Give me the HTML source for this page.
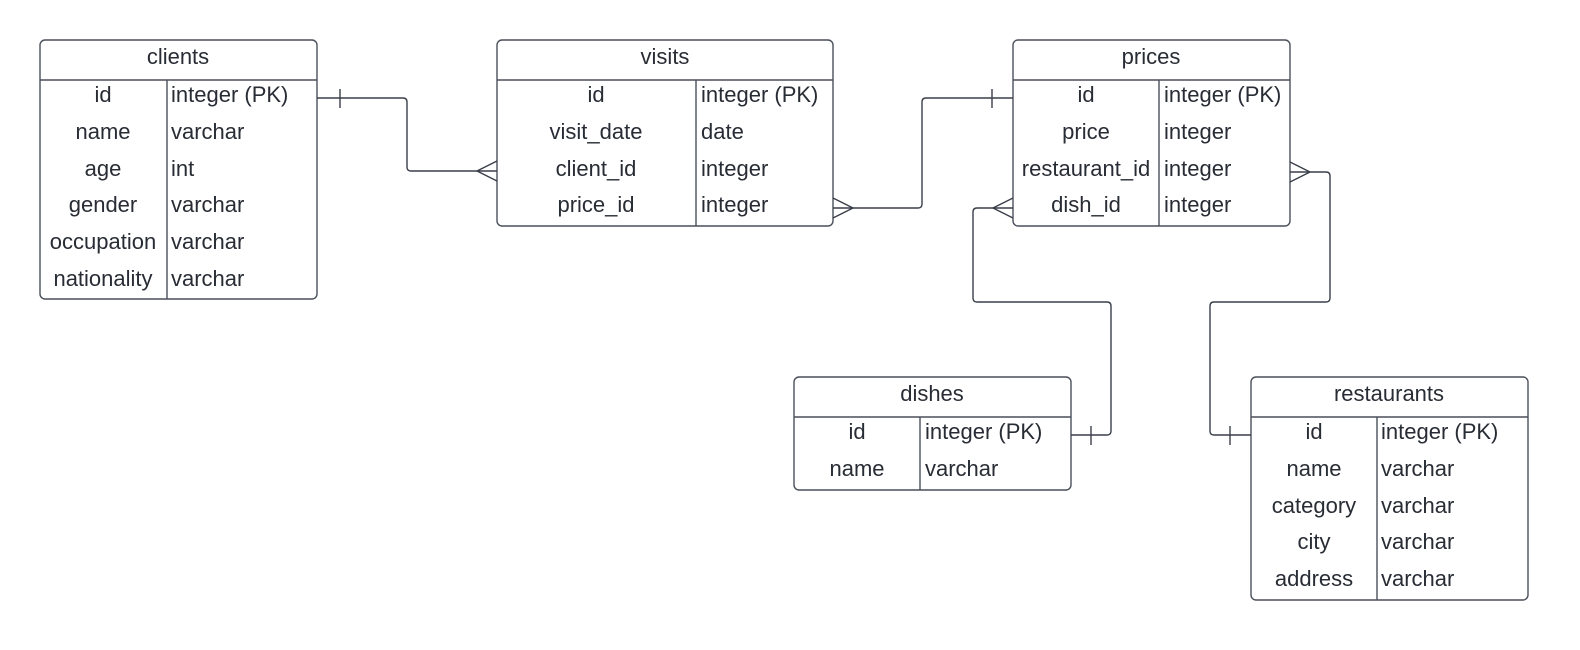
<!DOCTYPE html>
<html><head><meta charset="utf-8"><style>
html,body{margin:0;padding:0;background:#fff;}
svg text{font-family:"Liberation Sans",sans-serif;font-size:22px;fill:#282c34;}
</style></head><body>
<svg width="1580" height="645" xmlns="http://www.w3.org/2000/svg">
<g fill="none" stroke="#4a4f5a" stroke-width="1.4">
<rect x="40" y="40" width="277" height="259" rx="5"/>
<line x1="40" y1="80" x2="317" y2="80"/><line x1="167" y1="80" x2="167" y2="299"/>
<rect x="497" y="40" width="336" height="186" rx="5"/>
<line x1="497" y1="80" x2="833" y2="80"/><line x1="696" y1="80" x2="696" y2="226"/>
<rect x="1013" y="40" width="277" height="186" rx="5"/>
<line x1="1013" y1="80" x2="1290" y2="80"/><line x1="1159" y1="80" x2="1159" y2="226"/>
<rect x="794" y="377" width="277" height="113" rx="5"/>
<line x1="794" y1="417" x2="1071" y2="417"/><line x1="920" y1="417" x2="920" y2="490"/>
<rect x="1251" y="377" width="277" height="223" rx="5"/>
<line x1="1251" y1="417" x2="1528" y2="417"/><line x1="1377" y1="417" x2="1377" y2="600"/>
</g>
<g fill="none" stroke="#3a3f4a" stroke-width="1.4">
<path d="M317 98 H403 Q407 98 407 102 V167 Q407 171 411 171 H497"/>
<line x1="340" y1="89" x2="340" y2="108"/>
<path d="M477 171 L497 161 M477 171 L497 181"/>
<path d="M833 208 H918 Q922 208 922 204 V102 Q922 98 926 98 H1013"/>
<line x1="992" y1="89" x2="992" y2="108"/>
<path d="M853 208 L833 198 M853 208 L833 218"/>
<path d="M1013 208 H977 Q973 208 973 212 V298 Q973 302 977 302 H1107 Q1111 302 1111 306 V431 Q1111 435 1107 435 H1071"/>
<path d="M993 208 L1013 198 M993 208 L1013 218"/>
<line x1="1091" y1="426" x2="1091" y2="445"/>
<path d="M1290 172 H1326 Q1330 172 1330 176 V298 Q1330 302 1326 302 H1214 Q1210 302 1210 306 V431 Q1210 435 1214 435 H1251"/>
<path d="M1310 172 L1290 162 M1310 172 L1290 182"/>
<line x1="1230" y1="426" x2="1230" y2="445"/>
</g>
<g text-anchor="middle">
<text x="178" y="64">clients</text>
<text x="665" y="64">visits</text>
<text x="1151" y="64">prices</text>
<text x="932" y="401">dishes</text>
<text x="1389" y="401">restaurants</text>
<text x="103" y="102">id</text><text x="103" y="139">name</text><text x="103" y="176">age</text><text x="103" y="212">gender</text><text x="103" y="249">occupation</text><text x="103" y="286">nationality</text>
<text x="596" y="102">id</text><text x="596" y="139">visit_date</text><text x="596" y="176">client_id</text><text x="596" y="212">price_id</text>
<text x="1086" y="102">id</text><text x="1086" y="139">price</text><text x="1086" y="176">restaurant_id</text><text x="1086" y="212">dish_id</text>
<text x="857" y="439">id</text><text x="857" y="476">name</text>
<text x="1314" y="439">id</text><text x="1314" y="476">name</text><text x="1314" y="513">category</text><text x="1314" y="549">city</text><text x="1314" y="586">address</text>
</g>
<g>
<text x="171" y="102">integer (PK)</text><text x="171" y="139">varchar</text><text x="171" y="176">int</text><text x="171" y="212">varchar</text><text x="171" y="249">varchar</text><text x="171" y="286">varchar</text>
<text x="701" y="102">integer (PK)</text><text x="701" y="139">date</text><text x="701" y="176">integer</text><text x="701" y="212">integer</text>
<text x="1164" y="102">integer (PK)</text><text x="1164" y="139">integer</text><text x="1164" y="176">integer</text><text x="1164" y="212">integer</text>
<text x="925" y="439">integer (PK)</text><text x="925" y="476">varchar</text>
<text x="1381" y="439">integer (PK)</text><text x="1381" y="476">varchar</text><text x="1381" y="513">varchar</text><text x="1381" y="549">varchar</text><text x="1381" y="586">varchar</text>
</g>
</svg>
</body></html>
